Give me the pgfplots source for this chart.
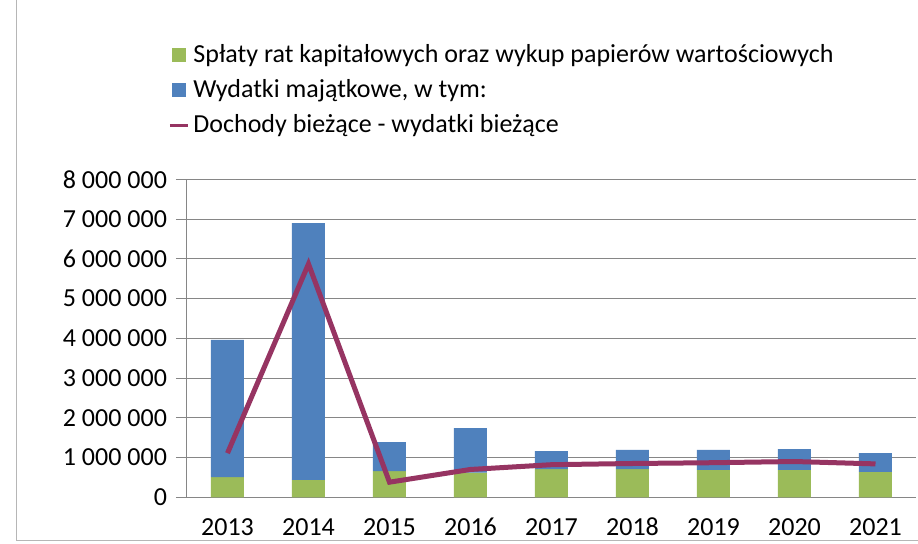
\documentclass[border=0pt]{standalone}
\usepackage{pgfplots}
\pgfplotsset{compat=1.18}
\usepackage{fontspec}
\setmainfont{Carlito}
\definecolor{splaty}{RGB}{155,187,89}
\definecolor{wydatki}{RGB}{79,129,189}
\definecolor{dochody}{RGB}{150,52,98}
\definecolor{siatka}{RGB}{134,134,134}
\begin{document}
\begin{tikzpicture}
\useasboundingbox (0,0) rectangle (459pt,272pt);
\draw[siatka!60, line width=0.5pt] (8pt,272pt) -- (8pt,1.5pt) -- (459pt,1.5pt);
\begin{axis}[
    at={(93.5pt,23.35pt)}, anchor=south west,
    scale only axis,
    width=364.5pt, height=159pt,
    ybar stacked,
    reverse stacked plots=false,
    bar width=16.5pt,
    xmin=-0.5, xmax=8.5,
    ymin=0, ymax=8000000,
    xtick={0,...,8},
    xticklabels={2013,2014,2015,2016,2017,2018,2019,2020,2021},
    x tick style={draw=none},
    extra x ticks={-0.5,0.5,...,8.5},
    extra x tick labels={},
    extra x tick style={tick style={draw=siatka, line width=0.5pt}, major tick length=5pt, tick align=outside},
    ytick={0,1000000,...,8000000},
    yticklabels={0,1 000 000,2 000 000,3 000 000,4 000 000,5 000 000,6 000 000,7 000 000,8 000 000},
    scaled y ticks=false,
    y tick style={draw=siatka, line width=0.5pt},
    major tick length=5.5pt,
    tick align=outside,
    ymajorgrids,
    grid style={siatka, line width=0.5pt},
    axis x line*=bottom,
    axis y line*=left,
    axis line style={siatka, line width=0.5pt},
    tick label style={font=\fontsize{13}{15}\selectfont},
    xticklabel style={yshift=-1pt, text height=9pt, text depth=0pt},
    yticklabel style={xshift=-1pt},
    legend style={at={(-0.026,1.438)}, anchor=north west, draw=none, fill=none,
        inner sep=0pt, row sep=3pt, cells={anchor=west},
        font=\fontsize{13}{15}\selectfont},
    legend cell align=left,
  ]
  \addplot[fill=splaty, draw=none,
    area legend,
    legend image code/.code={\fill[splaty] (0pt,-3.5pt) rectangle (7pt,3.5pt);}]
    coordinates {(0,510000) (1,435000) (2,660000) (3,620000) (4,710000)
                 (5,710000) (6,690000) (7,690000) (8,640000)};
  \addlegendentry{Spłaty rat kapitałowych oraz wykup papierów wartościowych}
  \addplot[fill=wydatki, draw=none,
    area legend,
    legend image code/.code={\fill[wydatki] (0pt,-3.5pt) rectangle (7pt,3.5pt);}]
    coordinates {(0,3450000) (1,6465000) (2,730000) (3,1120000) (4,450000)
                 (5,480000) (6,500000) (7,520000) (8,470000)};
  \addlegendentry{Wydatki majątkowe, w tym:}
  \addplot[sharp plot, stack plots=false, color=dochody, line width=2.5pt, mark=none,
    legend image code/.code={\draw[dochody, line width=1.5pt] (-1pt,0pt) -- (8pt,0pt);}]
    coordinates {(0,1110000) (1,5870000) (2,380000) (3,700000) (4,820000)
                 (5,850000) (6,870000) (7,900000) (8,840000)};
  \addlegendentry{Dochody bieżące - wydatki bieżące}
\end{axis}
\end{tikzpicture}
\end{document}
